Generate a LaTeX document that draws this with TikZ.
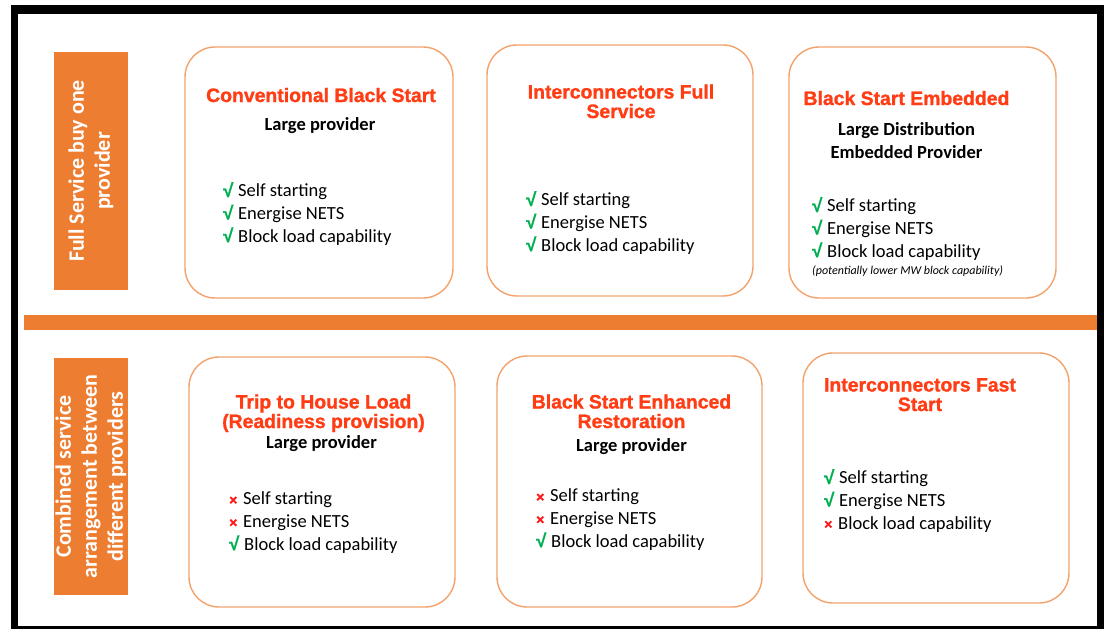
\documentclass[tikz,border=0pt]{standalone}
\usepackage{fontspec}
\setmainfont{Carlito}
\newfontface\headfont[FakeBold=1.2]{Liberation Sans Bold}

\definecolor{Accent}{HTML}{ED7D31}
\definecolor{Rim}{HTML}{F4A26C}
\definecolor{Heading}{HTML}{FF3C14}
\definecolor{Tick}{HTML}{00B050}
\definecolor{Cross}{HTML}{FF1A1A}

\newcommand\markyes{\makebox[15pt][l]{\headfont\color{Tick}√}}
\newcommand\markno{\makebox[14pt][l]{\headfont\fontsize{14}{14}\selectfont\color{Cross}×}}

% multi-line nodes: the base anchor sits on the last line
\tikzset{
  panel/.style = {rectangle, rounded corners=30pt, draw=Rim, line width=1.4pt,
                  fill=white, inner sep=0pt},
  side/.style  = {rectangle, fill=Accent, text=white, align=center, rotate=90,
                  font=\fontsize{22}{26}\selectfont\bfseries, inner sep=0pt},
  head/.style  = {text=Heading, align=center, anchor=base, inner sep=0pt,
                  font={\headfont\fontsize{19.4}{19.5}\selectfont}},
  sub/.style   = {align=center, anchor=base, inner sep=0pt,
                  font=\fontsize{18.5}{23}\selectfont\bfseries},
  items/.style = {align=left, anchor=base west, inner sep=0pt,
                  font=\fontsize{18.5}{22.6}\selectfont},
  note/.style  = {anchor=base west, inner sep=0pt,
                  font=\fontsize{12}{14}\selectfont\itshape},
}

\begin{document}
\begin{tikzpicture}[x=1pt, y=-1pt]
  \useasboundingbox (0,0) rectangle (1104,629);
  \fill[white] (0,0) rectangle (1104,629);
  % --- frame ---
  \fill[black] (11,5) rectangle (1112,640);
  \fill[white] (18,14) rectangle (1097,626);
  \fill[Accent] (24,315) rectangle (1097,330);

  % --- row labels ---
  \node[side, minimum width=238pt, minimum height=74pt] at (91,171) (full)
        {Full Service buy one\\provider};
  \node[side, minimum width=237pt, minimum height=74pt] at (91,476.5) (comb)
        {Combined service\\arrangement between\\different providers};

  % --- upper row ---
  \node[panel, minimum width=268pt, minimum height=251pt] at (319,172.5) (conv) {};
  \node[head] at (321,102) (convhead) {Conventional Black Start};
  \node[sub]  at (320,130) (convsub)  {Large provider};
  \node[items] at (223,242) (convlist)
        {\markyes Self starting\\ \markyes Energise NETS\\ \markyes Block load capability};

  \node[panel, minimum width=266pt, minimum height=251pt] at (620,170.5) (icfull) {};
  \node[head] at (621,118) (icfullhead) {Interconnectors Full\\Service};
  \node[items] at (526,251) (icfulllist)
        {\markyes Self starting\\ \markyes Energise NETS\\ \markyes Block load capability};

  \node[panel, minimum width=267pt, minimum height=251pt] at (922.5,172.5) (embed) {};
  \node[head] at (906.5,105) (embedhead) {Black Start Embedded};
  \node[sub]  at (906.5,158) (embedsub)  {Large Distribution\\Embedded Provider};
  \node[items] at (812,257) (embedlist)
        {\markyes Self starting\\ \markyes Energise NETS\\ \markyes Block load capability};
  \node[note] at (812,274) (embednote) {(potentially lower MW block capability)};

  % --- lower row ---
  \node[panel, minimum width=266pt, minimum height=250pt] at (322,482) (trip) {};
  \node[head] at (323.5,428) (triphead) {Trip to House Load\\(Readiness provision)};
  \node[sub]  at (321.5,448) (tripsub)  {Large provider};
  \node[items] at (229,550) (triplist)
        {\markno Self starting\\ \markno Energise NETS\\ \markyes Block load capability};

  \node[panel, minimum width=265pt, minimum height=251pt] at (629.5,481.5) (enh) {};
  \node[head] at (631.5,428) (enhhead) {Black Start Enhanced\\Restoration};
  \node[sub]  at (631.5,451) (enhsub)  {Large provider};
  \node[items] at (536,547) (enhlist)
        {\markno Self starting\\ \markno Energise NETS\\ \markyes Block load capability};

  \node[panel, minimum width=266pt, minimum height=250pt] at (936,478) (icfast) {};
  \node[head] at (920,411) (icfasthead) {Interconnectors Fast\\Start};
  \node[items] at (824,529) (icfastlist)
        {\markyes Self starting\\ \markyes Energise NETS\\ \markno Block load capability};
\end{tikzpicture}
\end{document}
